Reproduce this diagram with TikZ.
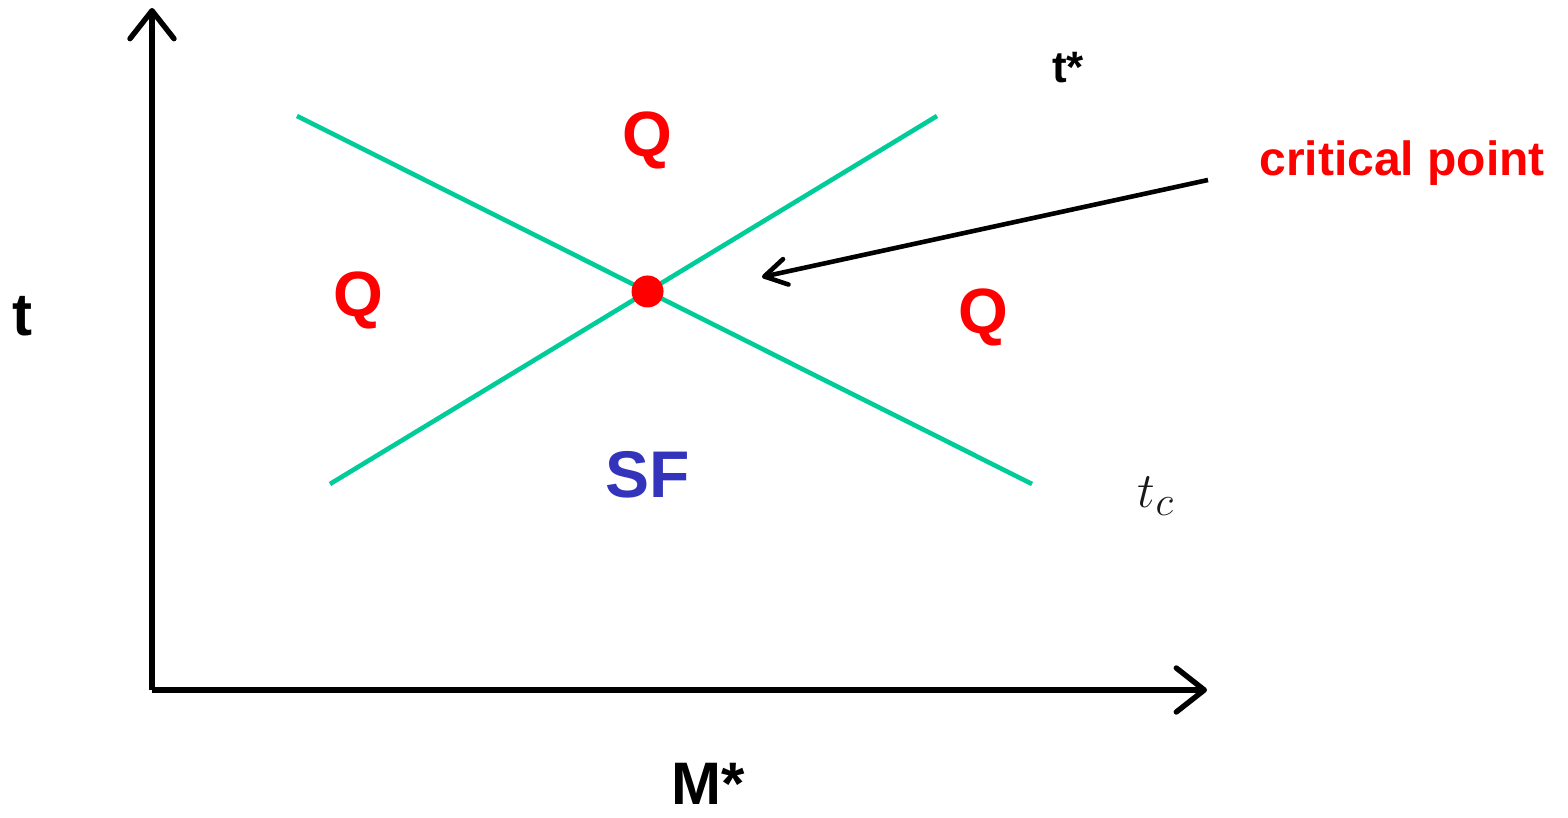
\documentclass[tikz,border=0pt]{standalone}
\usepackage{fontspec}
\setmainfont{Liberation Sans}
\usetikzlibrary{arrows.meta,positioning}
\definecolor{lineg}{RGB}{0,204,153}
\definecolor{sfblue}{RGB}{51,51,187}
\tikzset{ax/.style={line width=2.7pt,-{Straight Barb[length=14pt,width=22pt,line cap=round,line join=round]}},
lin/.style={lineg,line width=2.3pt},
reg/.style={red,font=\bfseries\fontsize{32}{36}\selectfont,inner sep=0pt},
lbl/.style={font=\bfseries\fontsize{30}{34}\selectfont,inner sep=0pt},
arr/.style={line width=2.3pt,-{Straight Barb[length=11pt,width=13pt,line cap=round,line join=round]}}}

\begin{document}
\begin{tikzpicture}[x=0.5pt,y=0.5pt]
\useasboundingbox(0,0)rectangle(1568,818);
\coordinate(O)at(152,128);\coordinate(Ytop)at(152,810);\coordinate(Xend)at(1207,128);
\draw[ax](O)--(Ytop);\draw[ax](O)--(Xend);
\coordinate(A1)at(297,702);\coordinate(A2)at(1032,334);\coordinate(B1)at(330,334);\coordinate(B2)at(937,702);
\draw[lin](A1)--(A2);\draw[lin](B1)--(B2);
\fill[red](intersection of A1--A2 and B1--B2)coordinate(C)circle(8pt);
\node[reg]at(647,678){Q};\node[reg]at(358,518){Q};\node[reg]at(983,501){Q};
\node[reg,sfblue,font=\bfseries\fontsize{33}{36}\selectfont]at(648,343){SF};
\node[lbl](tlab)at(22,502){t};\node[lbl](mlab)at(708,34){M*};
\node[lbl,font=\bfseries\fontsize{22}{26}\selectfont](ts)at(1068,750){t*};
\node[inner sep=0pt,black!90](tc)at(1156,322){\fontsize{32}{36}\selectfont$t_c$};
\node[red,inner sep=0pt,font=\bfseries\fontsize{24}{28}\selectfont](cp)at(1402,655){critical point};
\coordinate(P1)at(1208,638);\coordinate(P2)at(762,541);
\draw[arr](P1)--(P2);
\end{tikzpicture}
\end{document}
